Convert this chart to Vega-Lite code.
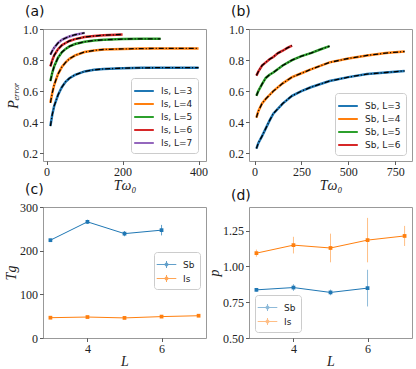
{
  "$schema": "https://vega.github.io/schema/vega-lite/v6.json",
  "padding": {"left": 3, "top": 4, "right": 2, "bottom": 1},
  "background": "white",
  "columns": 2,
  "bounds": "flush",
  "spacing": {"column": 43, "row": 46},
  "resolve": {"scale": {"color": "independent"}, "legend": {"color": "independent"}},
  "datasets": {
    "curvesA": [
      {"s": "Is, L=3", "T": 10, "P": 0.375}, {"s": "Is, L=3", "T": 15, "P": 0.45}, {"s": "Is, L=3", "T": 20, "P": 0.505},
      {"s": "Is, L=3", "T": 30, "P": 0.575}, {"s": "Is, L=3", "T": 40, "P": 0.625}, {"s": "Is, L=3", "T": 50, "P": 0.66},
      {"s": "Is, L=3", "T": 60, "P": 0.683}, {"s": "Is, L=3", "T": 75, "P": 0.705}, {"s": "Is, L=3", "T": 100, "P": 0.727},
      {"s": "Is, L=3", "T": 125, "P": 0.737}, {"s": "Is, L=3", "T": 150, "P": 0.743}, {"s": "Is, L=3", "T": 200, "P": 0.748},
      {"s": "Is, L=3", "T": 250, "P": 0.75}, {"s": "Is, L=3", "T": 300, "P": 0.751}, {"s": "Is, L=3", "T": 350, "P": 0.751},
      {"s": "Is, L=3", "T": 400, "P": 0.751},
      {"s": "Is, L=4", "T": 10, "P": 0.525}, {"s": "Is, L=4", "T": 15, "P": 0.59}, {"s": "Is, L=4", "T": 20, "P": 0.64},
      {"s": "Is, L=4", "T": 30, "P": 0.71}, {"s": "Is, L=4", "T": 40, "P": 0.755}, {"s": "Is, L=4", "T": 50, "P": 0.785},
      {"s": "Is, L=4", "T": 60, "P": 0.808}, {"s": "Is, L=4", "T": 75, "P": 0.83}, {"s": "Is, L=4", "T": 100, "P": 0.852},
      {"s": "Is, L=4", "T": 125, "P": 0.862}, {"s": "Is, L=4", "T": 150, "P": 0.868}, {"s": "Is, L=4", "T": 200, "P": 0.872},
      {"s": "Is, L=4", "T": 250, "P": 0.874}, {"s": "Is, L=4", "T": 300, "P": 0.875}, {"s": "Is, L=4", "T": 350, "P": 0.875},
      {"s": "Is, L=4", "T": 400, "P": 0.875},
      {"s": "Is, L=5", "T": 10, "P": 0.665}, {"s": "Is, L=5", "T": 15, "P": 0.72}, {"s": "Is, L=5", "T": 20, "P": 0.76},
      {"s": "Is, L=5", "T": 30, "P": 0.815}, {"s": "Is, L=5", "T": 40, "P": 0.85}, {"s": "Is, L=5", "T": 50, "P": 0.872},
      {"s": "Is, L=5", "T": 60, "P": 0.888}, {"s": "Is, L=5", "T": 75, "P": 0.903}, {"s": "Is, L=5", "T": 100, "P": 0.918},
      {"s": "Is, L=5", "T": 125, "P": 0.926}, {"s": "Is, L=5", "T": 150, "P": 0.93}, {"s": "Is, L=5", "T": 200, "P": 0.935},
      {"s": "Is, L=5", "T": 250, "P": 0.937}, {"s": "Is, L=5", "T": 300, "P": 0.937},
      {"s": "Is, L=6", "T": 10, "P": 0.76}, {"s": "Is, L=6", "T": 15, "P": 0.8}, {"s": "Is, L=6", "T": 20, "P": 0.83},
      {"s": "Is, L=6", "T": 30, "P": 0.87}, {"s": "Is, L=6", "T": 40, "P": 0.895}, {"s": "Is, L=6", "T": 50, "P": 0.91},
      {"s": "Is, L=6", "T": 60, "P": 0.923}, {"s": "Is, L=6", "T": 75, "P": 0.935}, {"s": "Is, L=6", "T": 100, "P": 0.948},
      {"s": "Is, L=6", "T": 125, "P": 0.955}, {"s": "Is, L=6", "T": 150, "P": 0.96}, {"s": "Is, L=6", "T": 200, "P": 0.965},
      {"s": "Is, L=7", "T": 10, "P": 0.835}, {"s": "Is, L=7", "T": 15, "P": 0.86}, {"s": "Is, L=7", "T": 20, "P": 0.88},
      {"s": "Is, L=7", "T": 30, "P": 0.91}, {"s": "Is, L=7", "T": 40, "P": 0.93}, {"s": "Is, L=7", "T": 50, "P": 0.942},
      {"s": "Is, L=7", "T": 60, "P": 0.952}, {"s": "Is, L=7", "T": 75, "P": 0.963}, {"s": "Is, L=7", "T": 100, "P": 0.975}
    ],
    "curvesB": [
      {"s": "Sb, L=3", "T": 10, "P": 0.23}, {"s": "Sb, L=3", "T": 20, "P": 0.265}, {"s": "Sb, L=3", "T": 40, "P": 0.31},
      {"s": "Sb, L=3", "T": 60, "P": 0.36}, {"s": "Sb, L=3", "T": 80, "P": 0.41}, {"s": "Sb, L=3", "T": 100, "P": 0.455},
      {"s": "Sb, L=3", "T": 150, "P": 0.52}, {"s": "Sb, L=3", "T": 200, "P": 0.57}, {"s": "Sb, L=3", "T": 250, "P": 0.6},
      {"s": "Sb, L=3", "T": 300, "P": 0.625}, {"s": "Sb, L=3", "T": 400, "P": 0.665}, {"s": "Sb, L=3", "T": 500, "P": 0.69},
      {"s": "Sb, L=3", "T": 600, "P": 0.71}, {"s": "Sb, L=3", "T": 700, "P": 0.72}, {"s": "Sb, L=3", "T": 800, "P": 0.73},
      {"s": "Sb, L=4", "T": 10, "P": 0.43}, {"s": "Sb, L=4", "T": 20, "P": 0.47}, {"s": "Sb, L=4", "T": 40, "P": 0.52},
      {"s": "Sb, L=4", "T": 60, "P": 0.55}, {"s": "Sb, L=4", "T": 80, "P": 0.575}, {"s": "Sb, L=4", "T": 100, "P": 0.6},
      {"s": "Sb, L=4", "T": 150, "P": 0.65}, {"s": "Sb, L=4", "T": 200, "P": 0.69}, {"s": "Sb, L=4", "T": 250, "P": 0.715},
      {"s": "Sb, L=4", "T": 300, "P": 0.74}, {"s": "Sb, L=4", "T": 400, "P": 0.785}, {"s": "Sb, L=4", "T": 500, "P": 0.81},
      {"s": "Sb, L=4", "T": 600, "P": 0.83}, {"s": "Sb, L=4", "T": 700, "P": 0.845}, {"s": "Sb, L=4", "T": 800, "P": 0.855},
      {"s": "Sb, L=5", "T": 10, "P": 0.57}, {"s": "Sb, L=5", "T": 20, "P": 0.6}, {"s": "Sb, L=5", "T": 40, "P": 0.645},
      {"s": "Sb, L=5", "T": 60, "P": 0.685}, {"s": "Sb, L=5", "T": 80, "P": 0.705}, {"s": "Sb, L=5", "T": 100, "P": 0.72},
      {"s": "Sb, L=5", "T": 150, "P": 0.765}, {"s": "Sb, L=5", "T": 200, "P": 0.8}, {"s": "Sb, L=5", "T": 250, "P": 0.825},
      {"s": "Sb, L=5", "T": 300, "P": 0.845}, {"s": "Sb, L=5", "T": 350, "P": 0.868}, {"s": "Sb, L=5", "T": 400, "P": 0.89},
      {"s": "Sb, L=6", "T": 10, "P": 0.7}, {"s": "Sb, L=6", "T": 20, "P": 0.725}, {"s": "Sb, L=6", "T": 40, "P": 0.765},
      {"s": "Sb, L=6", "T": 60, "P": 0.785}, {"s": "Sb, L=6", "T": 80, "P": 0.805}, {"s": "Sb, L=6", "T": 100, "P": 0.82},
      {"s": "Sb, L=6", "T": 125, "P": 0.845}, {"s": "Sb, L=6", "T": 150, "P": 0.86}, {"s": "Sb, L=6", "T": 175, "P": 0.878},
      {"s": "Sb, L=6", "T": 200, "P": 0.893}
    ],
    "tg": [
      {"m": "Sb", "L": 3, "v": 224, "lo": 221, "hi": 227}, {"m": "Sb", "L": 4, "v": 266, "lo": 261, "hi": 271},
      {"m": "Sb", "L": 5, "v": 239, "lo": 233, "hi": 245}, {"m": "Sb", "L": 6, "v": 247, "lo": 235, "hi": 259},
      {"m": "Is", "L": 3, "v": 46.5, "lo": 45, "hi": 48}, {"m": "Is", "L": 4, "v": 48, "lo": 46.5, "hi": 49.5},
      {"m": "Is", "L": 5, "v": 46, "lo": 44.5, "hi": 47.5}, {"m": "Is", "L": 6, "v": 49, "lo": 47.5, "hi": 50.5},
      {"m": "Is", "L": 7, "v": 51, "lo": 49.5, "hi": 52.5}
    ],
    "pp": [
      {"m": "Sb", "L": 3, "v": 0.836, "lo": 0.823, "hi": 0.849}, {"m": "Sb", "L": 4, "v": 0.852, "lo": 0.828, "hi": 0.876},
      {"m": "Sb", "L": 5, "v": 0.818, "lo": 0.798, "hi": 0.838}, {"m": "Sb", "L": 6, "v": 0.848, "lo": 0.72, "hi": 0.976},
      {"m": "Is", "L": 3, "v": 1.092, "lo": 1.067, "hi": 1.117}, {"m": "Is", "L": 4, "v": 1.148, "lo": 1.09, "hi": 1.206},
      {"m": "Is", "L": 5, "v": 1.128, "lo": 1.028, "hi": 1.228}, {"m": "Is", "L": 6, "v": 1.183, "lo": 1.028, "hi": 1.338},
      {"m": "Is", "L": 7, "v": 1.212, "lo": 1.142, "hi": 1.282}
    ]
  },
  "config": {
    "view": {"stroke": "#999999", "strokeWidth": 1},
    "axis": {
      "domain": false, "grid": false, "tickColor": "#333333", "tickSize": 3.5, "tickWidth": 0.8,
      "labelFont": "Liberation Serif", "labelFontSize": 12, "labelColor": "#222222", "labelPadding": 2,
      "titleFont": "Liberation Serif", "titleFontStyle": "italic", "titleFontSize": 14, "titleFontWeight": "normal", "titleColor": "#222222"
    },
    "axisY": {"minExtent": 21, "maxExtent": 21, "titlePadding": 2},
    "axisX": {"titlePadding": 0, "labelFlush": false},
    "legend": {
      "title": null, "fillColor": "white", "strokeColor": "#cccccc", "cornerRadius": 3, "padding": 5,
      "rowPadding": 0, "labelFont": "DejaVu Sans", "labelFontSize": 9, "labelColor": "#222222",
      "symbolType": "M-1.4,0H1.4", "symbolSize": 196, "symbolStrokeWidth": 2, "labelOffset": 9, "offset": 5
    },
    "title": {"font": "DejaVu Sans", "fontSize": 14, "fontWeight": "normal", "anchor": "start", "frame": "group", "dx": -18, "offset": 4, "color": "#111111"}
  },
  "concat": [
    {
      "title": "(a)",
      "width": 163, "height": 132,
      "data": {"name": "curvesA"},
      "encoding": {
        "x": {"field": "T", "type": "quantitative", "scale": {"domain": [-9.5, 419.5], "nice": false, "zero": false}, "axis": {"values": [0, 200, 400], "title": "Tω₀", "titlePadding": 1}},
        "y": {"field": "P", "type": "quantitative", "scale": {"domain": [0.15, 1.0], "nice": false, "zero": false}, "axis": {"values": [0.2, 0.4, 0.6, 0.8, 1.0], "format": ".1f", "title": "Pₑᵣᵣₒᵣ"}}
      },
      "layer": [
        {"mark": {"type": "line", "strokeWidth": 2.5}, "encoding": {"color": {"field": "s", "type": "nominal", "scale": {"domain": ["Is, L=3", "Is, L=4", "Is, L=5", "Is, L=6", "Is, L=7"], "range": ["#1f77b4", "#ff7f0e", "#2ca02c", "#d62728", "#9467bd"]}, "legend": {"orient": "bottom-right", "offset": 8}}}},
        {"mark": {"type": "line", "color": "black", "strokeWidth": 1.3, "strokeDash": [5, 2, 1, 2]}, "encoding": {"detail": {"field": "s"}}}
      ]
    },
    {
      "title": "(b)",
      "width": 163, "height": 132,
      "data": {"name": "curvesB"},
      "encoding": {
        "x": {"field": "T", "type": "quantitative", "scale": {"domain": [-29.5, 839.5], "nice": false, "zero": false}, "axis": {"values": [0, 250, 500, 750], "title": "Tω₀", "titlePadding": 1}},
        "y": {"field": "P", "type": "quantitative", "scale": {"domain": [0.15, 1.0], "nice": false, "zero": false}, "axis": {"values": [0.2, 0.4, 0.6, 0.8, 1.0], "format": ".1f", "title": null}}
      },
      "layer": [
        {"mark": {"type": "line", "strokeWidth": 2.5}, "encoding": {"color": {"field": "s", "type": "nominal", "scale": {"domain": ["Sb, L=3", "Sb, L=4", "Sb, L=5", "Sb, L=6"], "range": ["#1f77b4", "#ff7f0e", "#2ca02c", "#d62728"]}, "legend": {"orient": "bottom-right", "offset": 6}}}},
        {"mark": {"type": "line", "color": "black", "strokeWidth": 1.3, "strokeDash": [5, 2, 1, 2]}, "encoding": {"detail": {"field": "s"}}}
      ]
    },
    {
      "title": "(c)",
      "width": 163, "height": 131,
      "data": {"name": "tg"},
      "encoding": {
        "x": {"field": "L", "type": "quantitative", "scale": {"domain": [2.8, 7.2], "nice": false, "zero": false}, "axis": {"values": [4, 6], "title": "L"}},
        "y": {"field": "v", "type": "quantitative", "scale": {"domain": [0, 300], "nice": false}, "axis": {"values": [0, 100, 200, 300], "title": "Tg", "minExtent": 24, "maxExtent": 24, "titlePadding": 1}},
        "color": {"field": "m", "type": "nominal", "scale": {"domain": ["Sb", "Is"], "range": ["#1f77b4", "#ff7f0e"]},
          "legend": {"orient": "none", "legendX": 111, "legendY": 45, "symbolType": "M-1.4,0H1.4M0,-0.5V0.5M-0.17,-0.17H0.17V0.17H-0.17Z", "symbolStrokeWidth": 1, "rowPadding": 1}}
      },
      "layer": [
        {"mark": {"type": "line", "strokeWidth": 1}},
        {"mark": {"type": "rule", "strokeWidth": 1, "opacity": 0.7}, "encoding": {"y": {"field": "lo", "type": "quantitative"}, "y2": {"field": "hi"}}},
        {"mark": {"type": "point", "shape": "square", "filled": true, "size": 14, "opacity": 1}}
      ]
    },
    {
      "title": "(d)",
      "width": 163, "height": 131,
      "data": {"name": "pp"},
      "encoding": {
        "x": {"field": "L", "type": "quantitative", "scale": {"domain": [2.8, 7.2], "nice": false, "zero": false}, "axis": {"values": [4, 6], "title": "L"}},
        "y": {"field": "v", "type": "quantitative", "scale": {"domain": [0.5, 1.414], "nice": false, "zero": false}, "axis": {"values": [0.5, 0.75, 1.0, 1.25], "format": ".2f", "title": "p", "minExtent": 27, "maxExtent": 27, "titlePadding": 1}},
        "color": {"field": "m", "type": "nominal", "scale": {"domain": ["Sb", "Is"], "range": ["#1f77b4", "#ff7f0e"]},
          "legend": {"orient": "bottom-left", "offset": 6, "symbolType": "M-1.4,0H1.4M0,-0.5V0.5M-0.17,-0.17H0.17V0.17H-0.17Z", "symbolStrokeWidth": 1, "rowPadding": 1}}
      },
      "layer": [
        {"mark": {"type": "line", "strokeWidth": 1}},
        {"mark": {"type": "rule", "strokeWidth": 1, "opacity": 0.5}, "encoding": {"y": {"field": "lo", "type": "quantitative"}, "y2": {"field": "hi"}}},
        {"mark": {"type": "point", "shape": "square", "filled": true, "size": 14, "opacity": 1}}
      ]
    }
  ]
}
